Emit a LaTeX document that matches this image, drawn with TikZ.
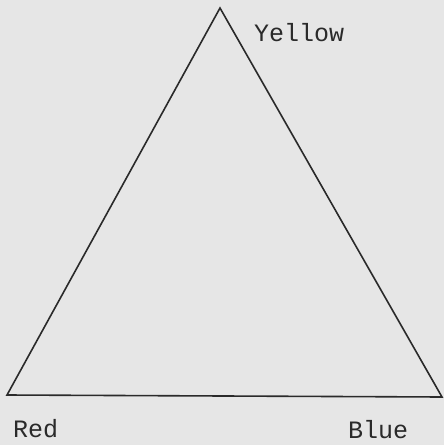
\documentclass[tikz,border=0pt]{standalone}
\usepackage{fontspec}
\setmonofont{Liberation Mono}
\definecolor{bg}{HTML}{E6E6E6}
\definecolor{ink}{HTML}{2A2A2A}
\begin{document}
\begin{tikzpicture}[x=1pt,y=-1pt,
  lbl/.style={font=\ttfamily\fontsize{25}{27}\selectfont, text=ink, inner sep=0pt},
  edge/.style={draw=ink, line width=1.6pt, line join=miter}]
\fill[bg] (0,0) rectangle (444,445);
\useasboundingbox (0,0) rectangle (444,445);
\coordinate (Y) at (220,8);
\coordinate (R) at (7,395);
\coordinate (B) at (442,397);
\draw[edge] (Y) -- (R) -- (B) -- cycle;
\node[lbl, anchor=west] (ly) at (254,33) {Yellow};
\node[lbl, anchor=west] (lr) at (13,429) {Red};
\node[lbl, anchor=west] (lb) at (348,430) {Blue};
\end{tikzpicture}
\end{document}
